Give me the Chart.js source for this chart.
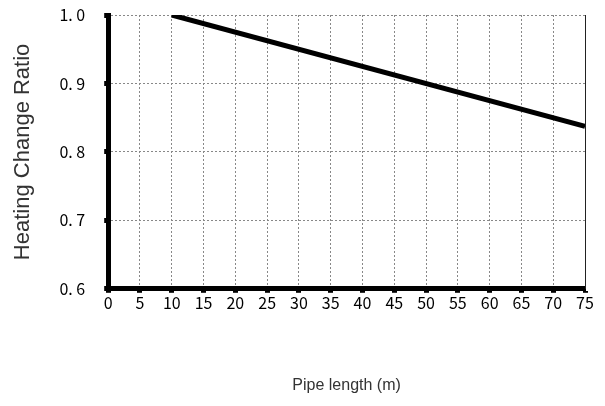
<!DOCTYPE html>
<html><head><meta charset="utf-8">
<script src="https://cdn.jsdelivr.net/npm/chart.js@4/dist/chart.umd.min.js"></script>
<style>html,body{margin:0;padding:0;background:#fff}#wrap{width:605px;height:406px}</style>
</head><body><div id="wrap"><canvas id="c" width="605" height="406"></canvas></div>
<script>
const pipeLength = [10, 75];
const heatingRatio = [1.0, 0.8375];
const xTicks = [0,5,10,15,20,25,30,35,40,45,50,55,60,65,70,75];
const yTicks = [0.6,0.7,0.8,0.9,1.0];

const frame = {
  id:'frame',
  afterDraw(chart){
    const {ctx, chartArea:a} = chart;
    ctx.save();
    ctx.strokeStyle='#222'; ctx.lineWidth=1;
    ctx.beginPath(); ctx.moveTo(a.right+0.5,a.top); ctx.lineTo(a.right+0.5,a.bottom); ctx.stroke();
    ctx.restore();
  }
};
const tickFont = {family:"'Noto Sans CJK JP', sans-serif", size:16, lineHeight:1};
new Chart(document.getElementById('c'), {
  type:'line',
  data:{datasets:[{data:pipeLength.map((x,i)=>({x, y:heatingRatio[i]})), borderColor:'#000', borderWidth:5, pointRadius:0, fill:false, tension:0}]},
  options:{
    responsive:false, animation:false, devicePixelRatio:1,
    layout:{padding:{top:15,right:20,left:10,bottom:11}},
    plugins:{legend:{display:false}, tooltip:{enabled:false}},
    scales:{
      x:{type:'linear', min:0, max:75,
        afterBuildTicks(s){ s.ticks = xTicks.map(v=>({value:v})); },
        afterFit(s){ s.paddingLeft = 0; s.paddingRight = 0; },
        ticks:{color:'#000', font:tickFont, padding:2, maxRotation:0, autoSkip:false, callback:v=>String(v)},
        grid:{color:'#888', lineWidth:1, tickLength:4, tickWidth:5, tickColor:'#000'},
        border:{display:true, width:5, color:'#000', dash:[2,2]},
        title:{display:true, text:'Pipe length (m)', color:'#333', font:{family:"'Liberation Sans', Arial, sans-serif", size:16}, padding:{top:63,bottom:0}}
      },
      y:{type:'linear', min:0.6, max:1.0,
        afterBuildTicks(s){ s.ticks = yTicks.map(v=>({value:v})); },
        afterFit(s){ s.paddingTop = 0; s.paddingBottom = 0; },
        ticks:{color:'#000', font:tickFont, padding:19, callback:v=>v.toFixed(1).replace('.', '. ')},
        grid:{color:'#888', lineWidth:1, tickLength:4, tickWidth:5, tickColor:'#000'},
        border:{display:true, width:5, color:'#000', dash:[2,2]},
        title:{display:true, text:'Heating Change Ratio', color:'#333', font:{family:"'Liberation Sans', Arial, sans-serif", size:22}, padding:{top:0,bottom:4}}
      }
    }
  },
  plugins:[frame]
});
</script></body></html>
